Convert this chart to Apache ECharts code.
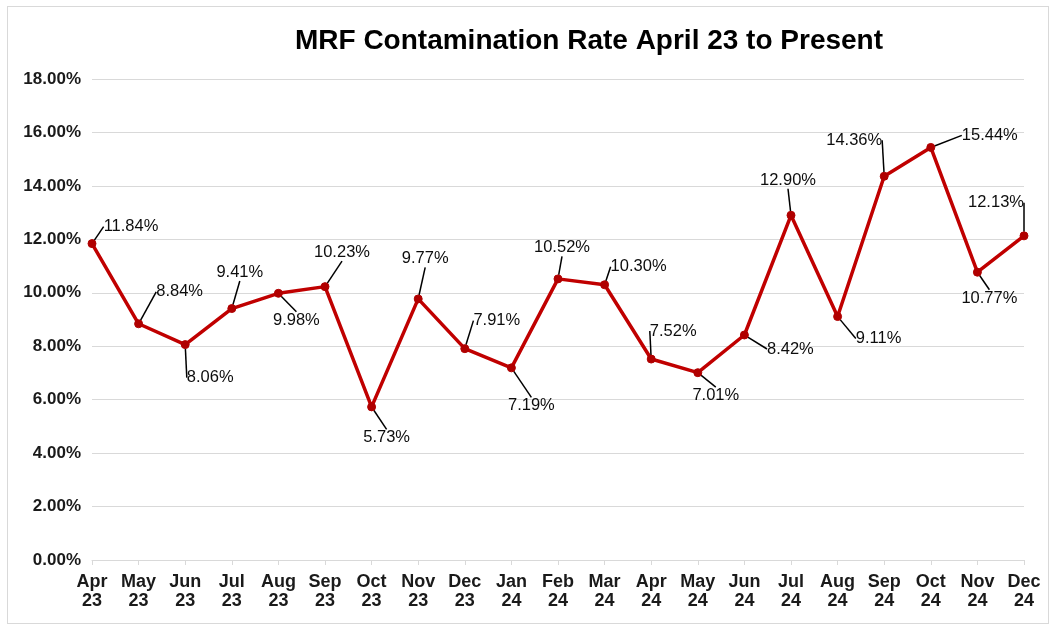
<!DOCTYPE html>
<html>
<head>
<meta charset="utf-8">
<script src="https://cdn.jsdelivr.net/npm/echarts@6/dist/echarts.min.js"></script>
<style>
  html, body { margin: 0; padding: 0; background: #fff; }
  #frame { position: absolute; left: 7px; top: 6px; width: 1042px; height: 618px; border: 1px solid #d9d9d9; box-sizing: border-box; }
  #chart { width: 1060px; height: 632px; }
</style>
</head>
<body>
<div id="frame"></div>
<div id="chart"></div>
<script>
const months = ['Apr\n23', 'May\n23', 'Jun\n23', 'Jul\n23', 'Aug\n23', 'Sep\n23', 'Oct\n23', 'Nov\n23', 'Dec\n23',
  'Jan\n24', 'Feb\n24', 'Mar\n24', 'Apr\n24', 'May\n24', 'Jun\n24', 'Jul\n24', 'Aug\n24', 'Sep\n24', 'Oct\n24',
  'Nov\n24', 'Dec\n24']
const rates = [11.84, 8.84, 8.06, 9.41, 9.98, 10.23, 5.73, 9.77, 7.91, 7.19, 10.52, 10.30, 7.52, 7.01, 8.42,
  12.90, 9.11, 14.36, 15.44, 10.77, 12.13]

// label offsets from each point (px), like the moved labels in the original
const labelOffsets = [[39, -17], [41, -32], [25, 33], [8, -36], [18, 27], [17, -34], [15, 31], [7, -40],
  [32, -28], [20, 38], [4, -31], [34, -18], [22, -28], [18, 23], [46, 14], [-3, -35], [41, 22],
  [-30, -36], [59, -12], [12, 26], [-28, -33]]

const chart = echarts.init(document.getElementById('chart'))

chart.setOption({
  animation: false,
  title: {
    text: 'MRF Contamination Rate April 23 to Present',
    left: 584,
    top: 22,
    textAlign: 'center',
    textStyle: { fontFamily: 'Liberation Sans', fontSize: 28, fontWeight: 'bold', color: '#000' }
  },
  grid: { left: 92, right: 36, top: 79, bottom: 72 },
  xAxis: {
    type: 'category',
    data: months,
    boundaryGap: false,
    axisLine: { lineStyle: { color: '#d9d9d9', width: 1 } },
    axisTick: { show: true, length: 5, lineStyle: { color: '#d9d9d9' } },
    axisLabel: {
      interval: 0,
      margin: 13,
      fontFamily: 'Liberation Sans',
      fontSize: 18,
      fontWeight: 'bold',
      color: '#1a1a1a',
      lineHeight: 19
    }
  },
  yAxis: {
    type: 'value',
    min: 0,
    max: 18,
    interval: 2,
    axisLine: { show: false },
    axisTick: { show: false },
    splitLine: { lineStyle: { color: '#d9d9d9', width: 1 } },
    axisLabel: {
      margin: 11,
      fontFamily: 'Liberation Sans',
      fontSize: 17,
      fontWeight: 'bold',
      color: '#1a1a1a',
      formatter: v => v.toFixed(2) + '%'
    }
  },
  series: [{
    type: 'line',
    data: rates,
    symbol: 'circle',
    symbolSize: 8,
    lineStyle: { color: '#c00000', width: 3.5 },
    itemStyle: { color: '#b00000', borderColor: '#b00000' },
    label: {
      show: true,
      position: 'inside',
      fontFamily: 'Liberation Sans',
      fontSize: 16.5,
      color: '#0d0d0d',
      formatter: p => p.value.toFixed(2) + '%'
    },
    labelLine: { show: true, lineStyle: { color: '#000', width: 1.5 } },
    labelLayout: p => {
      const off = labelOffsets[p.dataIndex]
      return {
        x: p.rect.x + p.rect.width / 2 + off[0],
        y: p.rect.y + p.rect.height / 2 + off[1],
        align: 'center',
        verticalAlign: 'middle'
      }
    }
  }]
})
</script>
</body>
</html>
